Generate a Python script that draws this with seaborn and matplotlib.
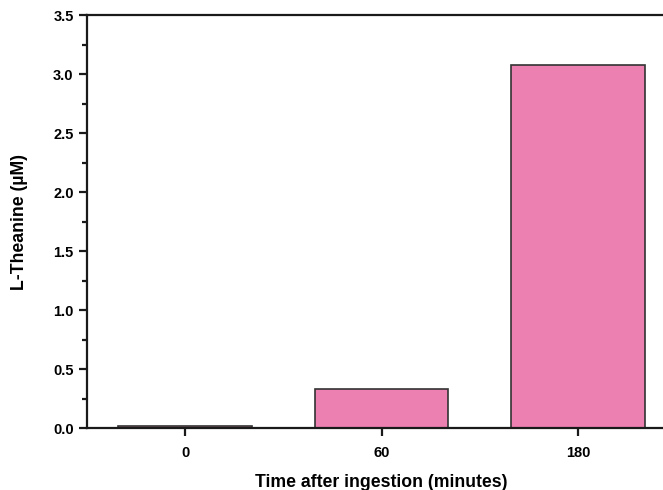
import matplotlib
matplotlib.use('Agg')
import matplotlib.pyplot as plt
import seaborn as sns
import pandas as pd
from matplotlib.ticker import MultipleLocator

# valores
tempos = ["0", "60", "180"]
teanina = [0.015, 0.33, 3.08]

df = pd.DataFrame({"Tempo": tempos, "Teanina": teanina})

sns.set_style("ticks")
plt.rcParams['font.family'] = ['Liberation Sans', 'DejaVu Sans']
plt.rcParams['font.weight'] = 'bold'
plt.rcParams['text.color'] = 'black'
plt.rcParams['axes.labelcolor'] = 'black'
plt.rcParams['xtick.color'] = 'black'
plt.rcParams['ytick.color'] = 'black'

fig = plt.figure(figsize=(6.63, 4.9), dpi=100)
ax = fig.add_axes([0.131, 0.1265, 0.889, 0.8425])

sns.barplot(data=df, x="Tempo", y="Teanina", order=tempos, color="#EC80B0",
            saturation=1, width=0.68, edgecolor="#333333", linewidth=1.2, ax=ax)

ax.set_xlim(-0.5, 2.5)
ax.set_ylim(0, 3.5)
ax.yaxis.set_major_locator(MultipleLocator(0.5))
ax.yaxis.set_minor_locator(MultipleLocator(0.25))
ax.yaxis.set_major_formatter(matplotlib.ticker.FormatStrFormatter('%.1f'))

for s in ax.spines.values():
    s.set_linewidth(1.6)
    s.set_color('#1a1a1a')
    s.set_visible(True)

ax.tick_params(axis='both', which='major', direction='out', length=6, width=1.6,
               labelsize=10.5, color='#1a1a1a', labelcolor='black')
ax.tick_params(axis='y', which='minor', direction='out', length=3.5, width=1.6, color='#1a1a1a')
ax.tick_params(axis='x', which='major', pad=7)

ax.set_xlabel("Time after ingestion (minutes)", fontsize=12.7, fontweight='bold', labelpad=10)
ax.set_ylabel("L-Theanine (\u00b5M)", fontsize=12.7, fontweight='bold', labelpad=18)

fig.savefig("out.png", dpi=100)
plt.close()
